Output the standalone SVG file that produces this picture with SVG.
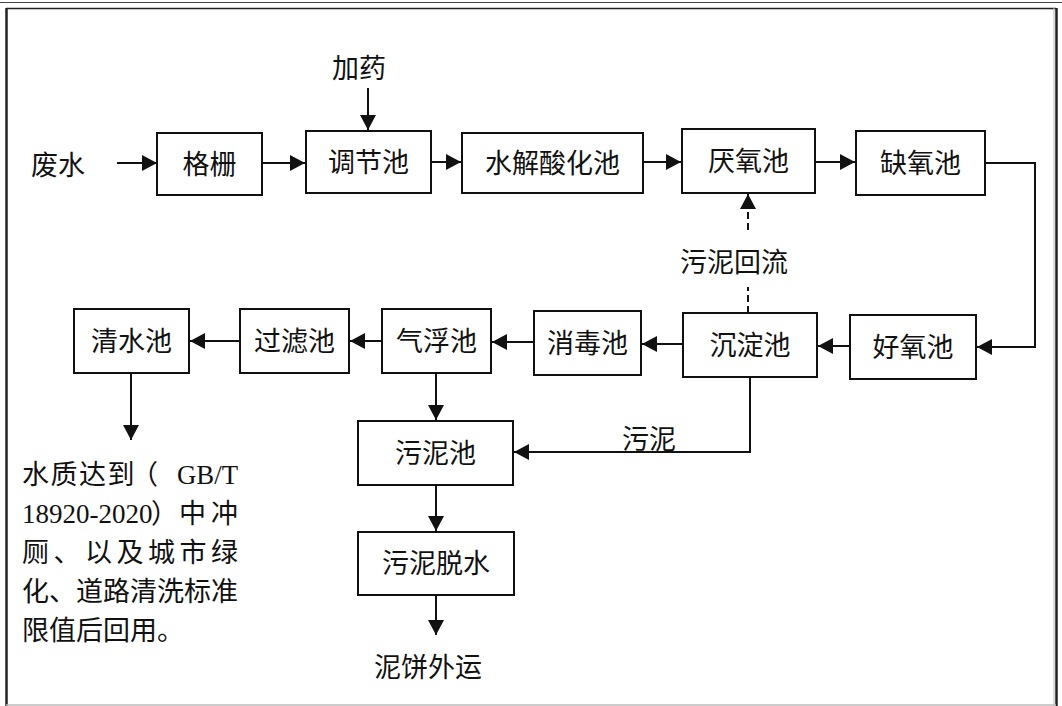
<svg xmlns="http://www.w3.org/2000/svg" width="1062" height="706" viewBox="0 0 1062 706">
<defs>
<style>
.box{fill:#fff;stroke:#111;stroke-width:2}
.lbl{font-family:"Liberation Serif","Noto Sans CJK SC",serif;font-size:27px;fill:#111;text-anchor:middle}
.txt{font-family:"Liberation Serif","Noto Sans CJK SC",serif;font-size:27px;fill:#111}
.ln{fill:none;stroke:#111;stroke-width:2;marker-end:url(#ah)}
.dash{stroke-dasharray:7 4}
</style>
<marker id="ah" markerUnits="userSpaceOnUse" markerWidth="17" markerHeight="17" refX="15" refY="8" orient="auto">
<path d="M0,0 L15,8 L0,16 Z" fill="#111"/>
</marker>
</defs>
<rect width="1062" height="706" fill="#fff"/>
<g id="frame" fill="none">
<line x1="0" y1="2.5" x2="1062" y2="2.5" stroke="#444" stroke-width="1.2"/>
<line x1="6" y1="8.5" x2="1056" y2="8.5" stroke="#222" stroke-width="1.5"/>
<line x1="6.5" y1="8" x2="6.5" y2="706" stroke="#222" stroke-width="2.5"/>
<line x1="1054" y1="8" x2="1054" y2="706" stroke="#bbb" stroke-width="1"/>
<line x1="1056.5" y1="8" x2="1056.5" y2="706" stroke="#222" stroke-width="2.5"/>
<line x1="6" y1="705" x2="1056" y2="705" stroke="#bbb" stroke-width="1.5"/>
</g>
<g id="connectors">
<path class="ln" d="M117,163 H157"/>
<path class="ln" d="M262,163 H305"/>
<path class="ln" d="M368,88 V130"/>
<path class="ln" d="M431,162 H461"/>
<path class="ln" d="M643,162 H681"/>
<path class="ln" d="M815,162 H855"/>
<path class="ln" d="M985,163 H1035 V347 H977"/>
<path class="ln" d="M850,346 H818"/>
<path class="ln" d="M683,344 H642"/>
<path class="ln" d="M534,342 H492"/>
<path class="ln" d="M382,341 H350"/>
<path class="ln" d="M240,341 H190"/>
<path class="ln" d="M131,373 V440"/>
<path class="ln" d="M436,373 V420"/>
<path class="ln" d="M436,485 V531"/>
<path class="ln" d="M436,595 V635"/>
<path class="ln" d="M750,377 V452 H514"/>
<path fill="none" stroke="#111" stroke-width="2" class="dash" d="M748,313 V287"/>
<path class="ln dash" d="M748,230 V194"/>
</g>
<g id="n-feishui"><text class="txt" x="31" y="175">废水</text></g>
<g id="n-jiayao"><text class="txt" x="332" y="78">加药</text></g>
<g id="n-gezha"><rect class="box" x="157" y="133" width="105" height="62"/><text class="lbl" x="209.5" y="174">格栅</text></g>
<g id="n-tiaojie"><rect class="box" x="306" y="131" width="125" height="62"/><text class="lbl" x="368.5" y="172">调节池</text></g>
<g id="n-shuijie"><rect class="box" x="462" y="133" width="181" height="60"/><text class="lbl" x="552.5" y="173">水解酸化池</text></g>
<g id="n-yanyang"><rect class="box" x="682" y="129" width="133" height="64"/><text class="lbl" x="748.5" y="171">厌氧池</text></g>
<g id="n-queyang"><rect class="box" x="856" y="131" width="129" height="64"/><text class="lbl" x="920.5" y="173">缺氧池</text></g>
<g id="n-haoyang"><rect class="box" x="850" y="315" width="126" height="64"/><text class="lbl" x="913" y="357">好氧池</text></g>
<g id="n-chendian"><rect class="box" x="683" y="313" width="134" height="64"/><text class="lbl" x="750" y="355">沉淀池</text></g>
<g id="n-xiaodu"><rect class="box" x="534" y="311" width="107" height="64"/><text class="lbl" x="587.5" y="353">消毒池</text></g>
<g id="n-qifu"><rect class="box" x="382" y="309" width="109" height="64"/><text class="lbl" x="436.5" y="351">气浮池</text></g>
<g id="n-guolv"><rect class="box" x="240" y="309" width="109" height="64"/><text class="lbl" x="294.5" y="351">过滤池</text></g>
<g id="n-qingshui"><rect class="box" x="74" y="309" width="115" height="64"/><text class="lbl" x="131.5" y="351">清水池</text></g>
<g id="n-wunichi"><rect class="box" x="358" y="421" width="155" height="64"/><text class="lbl" x="435.5" y="463">污泥池</text></g>
<g id="n-tuoshui"><rect class="box" x="358" y="532" width="156" height="63"/><text class="lbl" x="436" y="573">污泥脱水</text></g>
<g id="n-nibing"><text class="lbl" x="428" y="677">泥饼外运</text></g>
<g id="l-huiliu"><text class="lbl" x="734" y="272">污泥回流</text></g>
<g id="l-wuni"><text class="lbl" x="649" y="449">污泥</text></g>
<g id="n-note">
<text class="txt" y="484"><tspan x="22 50.5 79 107.5 131">水质达到（</tspan><tspan x="177" textLength="61" lengthAdjust="spacingAndGlyphs">GB/T</tspan></text>
<text class="txt" y="523"><tspan x="22">18920-2020</tspan><tspan x="151">）</tspan><tspan x="179">中</tspan><tspan x="211">冲</tspan></text>
<text class="txt" y="562" x="22 53.5 85 116.5 148 179.5 211">厕、以及城市绿</text>
<text class="txt" y="601" x="22">化、道路清洗标准</text>
<text class="txt" y="640" x="22">限值后回用。</text>
</g>
</svg>
